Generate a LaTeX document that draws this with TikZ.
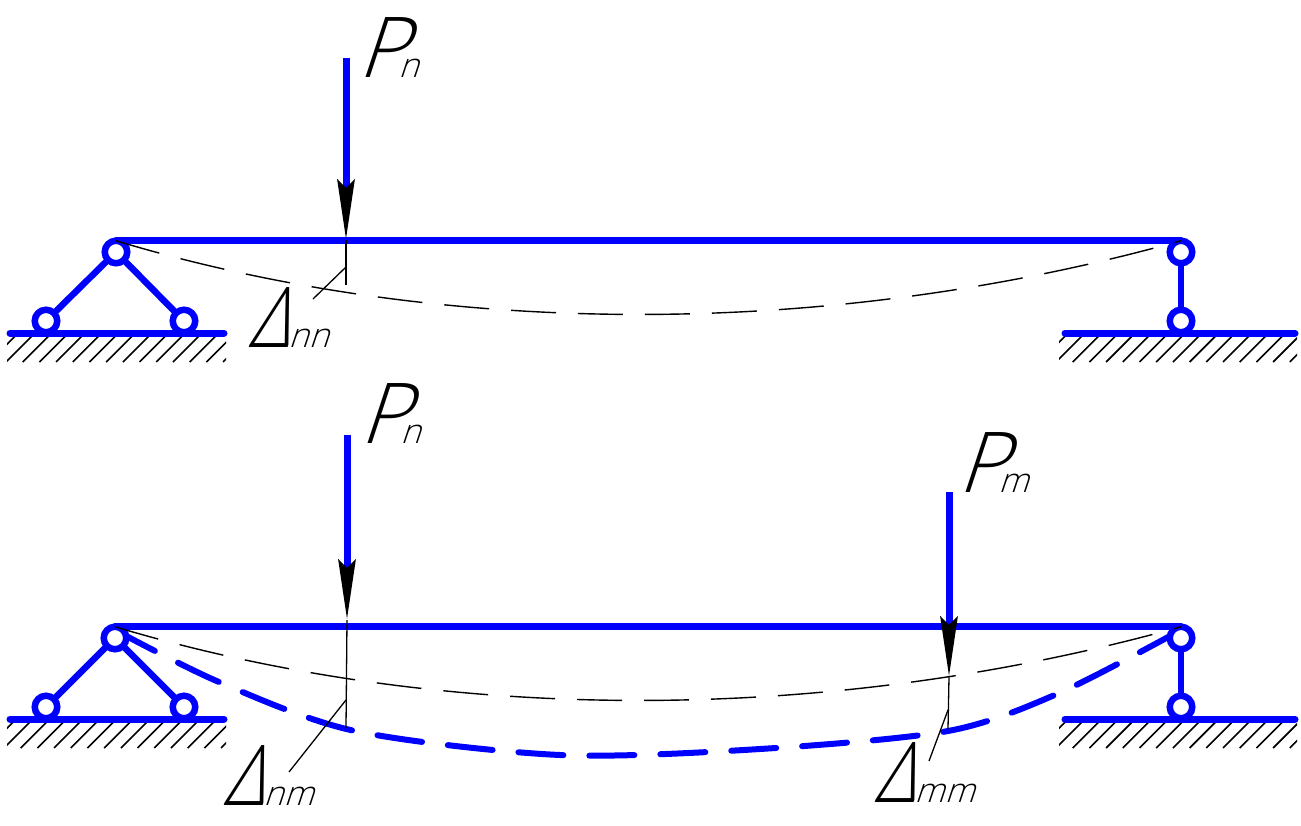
\documentclass[tikz,border=0pt]{standalone}
\usepackage{fontspec}
\newfontfamily\labelfont[FakeSlant=0.33]{Open Sans Light}
\newfontfamily\deltafont[FakeSlant=0.33,FakeStretch=0.84]{Open Sans Light}
\newfontfamily\indexfont[FakeSlant=0.33]{Open Sans Light}
\usetikzlibrary{arrows.meta, positioning}
\tikzset{
    hinge/.style={
        circle,
        draw=blue,
        line width=6.5pt,
        fill=white,
        minimum size=22.5pt,
        outer sep=0pt,
        inner sep=0pt
    },
    rod/.style={
        draw=blue,
        line width=6.5pt
    },
    beam/.style={
        draw=blue,
        line width=7pt,
        line cap=round
    },
    ground/.style={
        draw=blue,
        line width=7pt,
        line cap=round
    },
    hatchline/.style={
        draw=black,
        line width=1.6pt
    },
    force/.style={
        draw=blue,
        line width=7pt,
        -{Stealth[black,length=60pt,width=17pt,inset=8pt]}
    },
    leader/.style={
        draw=black,
        line width=1.3pt
    },
    elastic/.style={
        draw=black,
        line width=1.4pt,
        dash pattern=on 45pt off 22pt
    },
    elasticload/.style={
        draw=blue,
        line width=6pt,
        line cap=round,
        dash pattern=on 45pt off 26pt
    },
    forcetext/.style={
        anchor=base west,
        inner sep=0pt,
        text=black,
        font=\labelfont\fontsize{84}{84}\selectfont
    },
    defltext/.style={
        anchor=base west,
        inner sep=0pt,
        text=black,
        font=\deltafont\fontsize{84}{84}\selectfont
    }
}
\newcommand{\subtext}[1]{{\indexfont\fontsize{34}{34}\selectfont #1}}

\begin{document}
\begin{tikzpicture}[x=1pt,y=-1pt]
    \useasboundingbox (0,0) rectangle (1301,825);

    % hatching under the supports
    \foreach \xa/\xb/\xtop/\ytop in {7/226/35/333, 1059/1297/1085/333, 7/226/33/719, 1059/1297/1085/719}{
        \begin{scope}
            \clip (\xa,\ytop) rectangle (\xb,\ytop+29);
            \foreach \k in {-2,...,14}
                \draw[hatchline] (\xtop+16.7*\k,\ytop) -- ++(-29,29);
        \end{scope}
    }

    % upper beam
    \coordinate (groundUL) at (10,333);
    \coordinate (groundUR) at (224,333);
    \coordinate (groundVL) at (1065,333);
    \coordinate (groundVR) at (1295,333);
    \draw[ground] (groundUL) -- (groundUR);
    \draw[ground] (groundVL) -- (groundVR);
    \node[hinge] (hingeA)  at (116,252) {};
    \node[hinge] (hingeB)  at (46,321)  {};
    \node[hinge] (hingeC)  at (184,321) {};
    \node[hinge] (hingeD)  at (1181,252) {};
    \node[hinge] (hingeE)  at (1181,321) {};
    \draw[rod] (hingeA) -- (hingeB);
    \draw[rod] (hingeA) -- (hingeC);
    \draw[rod] (hingeD) -- (hingeE);
    \draw[beam] (hingeA.north) -- (hingeD.north);
    \draw[elastic] (hingeA.north) .. controls (440,338) and (825,340) .. (hingeD.north);

    \coordinate (loadTop)  at (346,58);
    \coordinate (loadTip)  at (346,240);
    \coordinate (defA)     at (346,285);
    \coordinate (defAfoot) at (313,299);
    \coordinate (defAmid)  at (346,267);
    \draw[force] (loadTop) -- (loadTip);
    \draw[leader] (loadTip) -- (defA);
    \draw[leader] (defAmid) -- (defAfoot);
    \node[forcetext] (labelP)  at (357,77)  {P\kern-8pt\subtext{n}};
    \node[defltext]  (labelD)  at (248,347) {Δ\subtext{nn}};

    % lower beam
    \coordinate (groundWL) at (10,719);
    \coordinate (groundWR) at (224,719);
    \coordinate (groundXL) at (1065,719);
    \coordinate (groundXR) at (1295,719);
    \draw[ground] (groundWL) -- (groundWR);
    \draw[ground] (groundXL) -- (groundXR);
    \draw[elasticload] plot[smooth] coordinates {(115,630) (219,682) (355,731) (560,755) (760,749) (948,731) (1057,694) (1170,636)};
    \node[hinge] (hingeF)  at (115,638) {};
    \node[hinge] (hingeG)  at (46,707)  {};
    \node[hinge] (hingeH)  at (184,707) {};
    \node[hinge] (hingeI)  at (1181,638) {};
    \node[hinge] (hingeJ)  at (1181,707) {};
    \draw[rod] (hingeF) -- (hingeG);
    \draw[rod] (hingeF) -- (hingeH);
    \draw[rod] (hingeI) -- (hingeJ);
    \draw[beam] (hingeF.north) -- (hingeI.north);
    \draw[elastic] (hingeF.north) .. controls (440,724) and (825,726) .. (hingeI.north);

    \coordinate (loadBtop) at (347,435);
    \coordinate (loadBtip) at (347,620);
    \coordinate (loadCtop) at (949,492);
    \coordinate (loadCtip) at (949,677);
    \coordinate (defB)     at (346,728);
    \coordinate (defBmid)  at (346,700);
    \coordinate (defBfoot) at (289,772);
    \coordinate (defC)     at (948,729);
    \coordinate (defCmid)  at (948,710);
    \coordinate (defCfoot) at (929,761);
    \draw[force] (loadBtop) -- (loadBtip);
    \draw[force] (loadCtop) -- (loadCtip);
    \draw[leader] (loadBtip) -- (defB);
    \draw[leader] (defBmid) -- (defBfoot);
    \draw[leader] (loadCtip) -- (defC);
    \draw[leader] (defCmid) -- (defCfoot);
    \node[forcetext] (labelQ)  at (359,443) {P\kern-8pt\subtext{n}};
    \node[forcetext] (labelR)  at (957,492) {P\kern-8pt\subtext{m}};
    \node[defltext]  (labelS)  at (223,805) {Δ\subtext{nm}};
    \node[defltext]  (labelT)  at (874,802) {Δ\subtext{mm}};
\end{tikzpicture}
\end{document}
